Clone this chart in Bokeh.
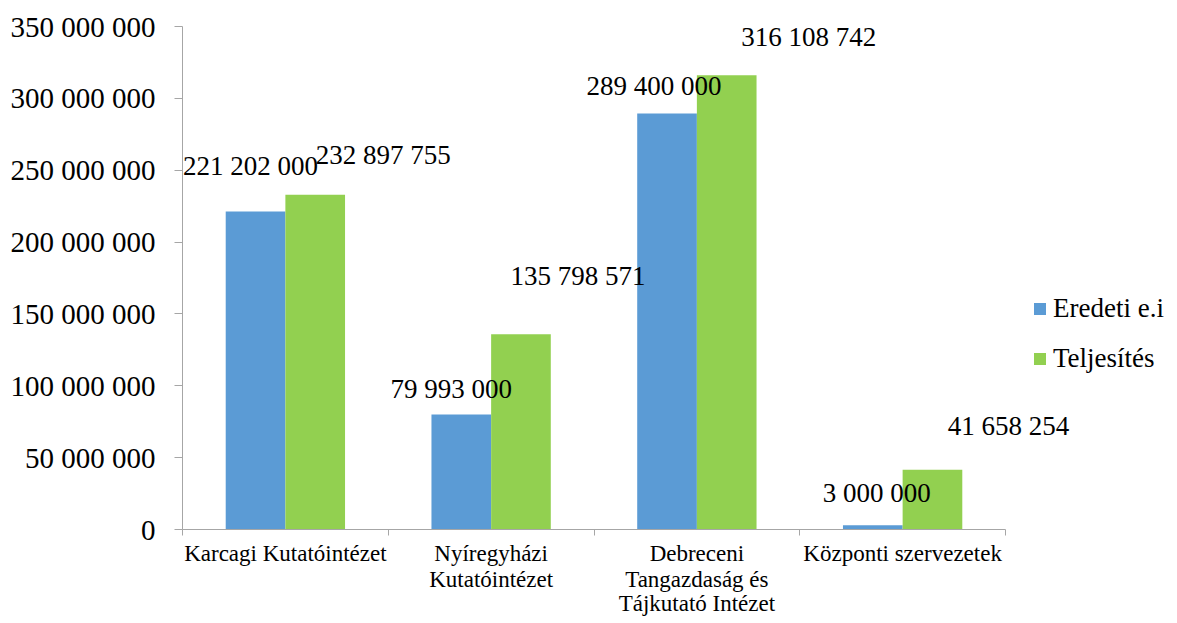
from bokeh.plotting import figure
from bokeh.models import (ColumnDataSource, Range1d, FixedTicker, LinearAxis,
                          Legend, LegendItem, LabelSet)
from bokeh.transform import dodge
from bokeh.core.properties import value
from bokeh.embed import file_html
from bokeh.resources import INLINE

# ---- data ----
categories = ["Karcagi Kutatóintézet", "Nyíregyházi Kutatóintézet",
              "Debreceni Tangazdaság és Tájkutató Intézet", "Központi szervezetek"]
# category labels as wrapped in the chart (one list per text line)
label_line1 = ["Karcagi Kutatóintézet", "Nyíregyházi", "Debreceni", "Központi szervezetek"]
label_line2 = ["", "Kutatóintézet", "Tangazdaság és", ""]
label_line3 = ["", "", "Tájkutató Intézet", ""]
series_names = ["Eredeti e.i", "Teljesítés"]
eredeti = [221202000, 79993000, 289400000, 3000000]
teljesites = [232897755, 135798571, 316108742, 41658254]
y_ticks = [0, 50000000, 100000000, 150000000, 200000000, 250000000, 300000000, 350000000]

# ---- label nudges in screen pixels (layout only) ----
eredeti_dx = [-5, -10, -13, 4]
eredeti_dy = [46, 26, 28, 32]
teljesites_dx = [68, 57, 82, 76]
teljesites_dy = [40, 58, 38, 44]

def fmt(v):
    return f"{v:,}".replace(",", " ")

FONT = "Liberation Serif"
AXIS_GRAY = "#A6A6A6"
BLUE = "#5B9BD5"
GREEN = "#92D050"

n = len(categories)
pos = [i + 0.5 for i in range(n)]          # category slot centres
bounds_ticks = [i for i in range(n + 1)]    # category slot boundaries

src = ColumnDataSource(dict(
    cat=categories, pos=pos,
    eredeti=eredeti, teljesites=teljesites,
    e_lbl=[fmt(v) for v in eredeti], t_lbl=[fmt(v) for v in teljesites],
    e_dx=eredeti_dx, e_dy=eredeti_dy, t_dx=teljesites_dx, t_dy=teljesites_dy,
))

W, H = 1177, 623
LEFT, TOP, BOTTOM = 182, 26, 94
AXIS_PX = 823                                # width of the category axis
x_end = n * (W - LEFT) / AXIS_PX             # frame runs on past the axis (room for legend)

p = figure(x_range=Range1d(0, x_end), y_range=Range1d(0, 350000000),
           width=W, height=H, output_backend="svg", toolbar_location=None,
           x_axis_location=None, y_axis_location="left",
           min_border_left=LEFT, min_border_top=TOP,
           min_border_bottom=BOTTOM, min_border_right=0)
p.outline_line_color = None
p.xgrid.visible = False
p.ygrid.visible = False
p.background_fill_color = "white"
p.border_fill_color = "white"

# y axis
ya = p.yaxis[0]
ya.ticker = FixedTicker(ticks=y_ticks)
ya.major_label_overrides = {t: fmt(t) for t in y_ticks}
ya.major_label_text_font = FONT
ya.major_label_text_font_size = "29px"
ya.major_label_text_color = "black"
ya.major_label_standoff = 19
ya.major_tick_out = 8
ya.major_tick_in = 0
ya.minor_tick_line_color = None
ya.minor_tick_out = 0
ya.axis_line_color = AXIS_GRAY
ya.major_tick_line_color = AXIS_GRAY

# x axis line with separator ticks at the category boundaries
sep = LinearAxis(ticker=FixedTicker(ticks=bounds_ticks), bounds=(0, n),
                 major_label_text_font_size="0px", major_label_standoff=0,
                 major_tick_out=6, major_tick_in=0,
                 minor_tick_line_color=None, minor_tick_out=0, minor_tick_in=0,
                 axis_line_color=AXIS_GRAY, major_tick_line_color=AXIS_GRAY)
p.add_layout(sep, "below")

# category labels, one axis per text line
for lines, standoff in [(label_line1, 5), (label_line2, -2), (label_line3, -4)]:
    ax = LinearAxis(ticker=FixedTicker(ticks=pos), bounds=(0, n),
                    axis_line_color=None, major_tick_line_color=None,
                    minor_tick_line_color=None,
                    major_tick_out=0, major_tick_in=0, minor_tick_out=0, minor_tick_in=0,
                    major_label_standoff=standoff,
                    major_label_text_font=FONT, major_label_text_font_size="23px",
                    major_label_text_color="black",
                    major_label_overrides=dict(zip(pos, lines)))
    p.add_layout(ax, "below")

# bars
r1 = p.vbar(x=dodge("pos", -0.145), top="eredeti", width=0.29,
            source=src, fill_color=BLUE, line_color=None)
r2 = p.vbar(x=dodge("pos", 0.145), top="teljesites", width=0.29,
            source=src, fill_color=GREEN, line_color=None)

# data labels
for col, lbl, dx, dy, off in [("eredeti", "e_lbl", "e_dx", "e_dy", -0.145),
                               ("teljesites", "t_lbl", "t_dx", "t_dy", 0.145)]:
    ls = LabelSet(x=dodge("pos", off), y=col, text=lbl,
                  x_offset=dx, y_offset=dy, source=src,
                  text_align="center", text_baseline="middle",
                  text_font=value(FONT), text_font_size=value("27px"),
                  text_color="black")
    p.add_layout(ls)

legend = Legend(items=[LegendItem(label=series_names[0], renderers=[r1]),
                       LegendItem(label=series_names[1], renderers=[r2])],
                location=(850, 155), orientation="vertical",
                border_line_color=None, background_fill_alpha=0,
                label_text_font=FONT, label_text_font_size="27px",
                label_text_color="black",
                glyph_width=15, glyph_height=15, label_standoff=6,
                label_height=30, spacing=19, padding=0, margin=0)
p.add_layout(legend, "center")

open("out.html", "w").write(file_html(p, INLINE))
